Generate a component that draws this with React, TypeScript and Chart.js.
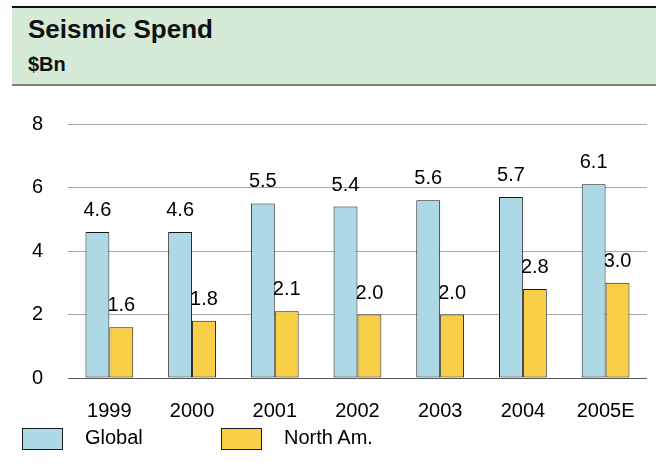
import React, { useEffect, useRef } from "react";
import { Chart, registerables } from "chart.js";

Chart.register(...registerables);

const title = "Seismic Spend";
const subtitle = "$Bn";
const categories = ["1999", "2000", "2001", "2002", "2003", "2004", "2005E"];
const seriesNames = ["Global", "North Am."];
const globalValues = [4.6, 4.6, 5.5, 5.4, 5.6, 5.7, 6.1];
const northAmValues = [1.6, 1.8, 2.1, 2.0, 2.0, 2.8, 3.0];
const yMin = 0;
const yMax = 8;
const yStep = 2;

const FONT = "'Liberation Sans', Arial, Helvetica, sans-serif";
const BLUE = "#add8e6";
const YELLOW = "#f9cf48";
const BORDER = "#1a1a1a";

const valueLabels = {
  id: "valueLabels",
  beforeDatasetsDraw(chart: any) {
    const ctx = chart.ctx;
    ctx.save();
    ctx.font = `20px ${FONT}`;
    ctx.fillStyle = "#000";
    ctx.textAlign = "center";
    ctx.textBaseline = "middle";
    chart.data.datasets.forEach((ds: any, i: number) => {
      const meta = chart.getDatasetMeta(i);
      meta.data.forEach((bar: any, j: number) => {
        const v = ds.data[j];
        ctx.fillText(v.toFixed(1), bar.x, bar.y - 21.5);
      });
    });
    ctx.restore();
  },
};

export default function App() {
  const ref = useRef<HTMLCanvasElement | null>(null);

  useEffect(() => {
    if (!ref.current) return;
    Chart.defaults.font.family = FONT;
    Chart.defaults.font.size = 20;
    Chart.defaults.color = "#000";
    const chart = new Chart(ref.current, {
      type: "bar",
      data: {
        labels: categories,
        datasets: [
          {
            label: seriesNames[0],
            data: globalValues,
            backgroundColor: BLUE,
            borderColor: BORDER,
            borderWidth: 1,
            borderSkipped: false,
            categoryPercentage: 0.578,
            barPercentage: 1,
          },
          {
            label: seriesNames[1],
            data: northAmValues,
            backgroundColor: YELLOW,
            borderColor: BORDER,
            borderWidth: 1,
            borderSkipped: false,
            categoryPercentage: 0.578,
            barPercentage: 1,
          },
        ],
      },
      options: {
        responsive: false,
        animation: false,
        devicePixelRatio: 1,
        layout: { padding: { top: 124, right: 7, bottom: 0, left: 0 } },
        plugins: {
          legend: { display: false },
          tooltip: { enabled: false },
          title: { display: false },
        },
        scales: {
          x: {
            grid: { display: false, drawTicks: false },
            border: { display: false },
            ticks: {
              padding: 21,
              maxRotation: 0,
              autoSkip: false,
              font: { size: 20, family: FONT },
              color: "#000",
            },
            afterFit(scale: any) {
              scale.height = 85;
            },
          },
          y: {
            min: yMin,
            max: yMax,
            grid: {
              drawTicks: false,
              color: (c: any) => (c.tick && c.tick.value === 0 ? "#555555" : "#a6a6a6"),
              lineWidth: 1,
            },
            border: { display: false },
            ticks: {
              stepSize: yStep,
              padding: 25,
              font: { size: 20, family: FONT },
              color: "#000",
            },
            afterFit(scale: any) {
              scale.width = 68;
            },
          },
        },
      },
      plugins: [valueLabels],
    } as any);
    return () => chart.destroy();
  }, []);

  const legendColors = [BLUE, YELLOW];
  const legendLeft = [22, 221];

  return (
    <div
      style={{
        position: "absolute",
        left: 0,
        top: 0,
        width: 656,
        height: 463,
        overflow: "hidden",
        fontFamily: FONT,
        background: "#fff",
      }}
    >
      <canvas
        ref={ref}
        width={656}
        height={463}
        style={{ position: "absolute", left: 0, top: 0, width: 656, height: 463, display: "block" }}
      />
      <div
        style={{
          position: "absolute",
          left: 12,
          top: 6,
          width: 644,
          height: 76,
          background: "#d5ebd7",
          borderTop: "2px solid #111",
          borderBottom: "2px solid #7f7f7f",
        }}
      />
      <div
        style={{
          position: "absolute",
          left: 28,
          top: 15.5,
          fontSize: 26,
          lineHeight: "26px",
          fontWeight: "bold",
          color: "#111",
          whiteSpace: "nowrap",
        }}
      >
        {title}
      </div>
      <div
        style={{
          position: "absolute",
          left: 28,
          top: 53.5,
          fontSize: 20,
          lineHeight: "20px",
          fontWeight: "bold",
          color: "#111",
          whiteSpace: "nowrap",
        }}
      >
        {subtitle}
      </div>
      {seriesNames.map((name, i) => (
        <React.Fragment key={name}>
          <div
            style={{
              position: "absolute",
              left: legendLeft[i],
              top: 428,
              width: 39,
              height: 20,
              background: legendColors[i],
              border: `1px solid ${BORDER}`,
            }}
          />
          <div
            style={{
              position: "absolute",
              left: legendLeft[i] + 63,
              top: 426,
              fontSize: 20,
              lineHeight: "22px",
              color: "#000",
              whiteSpace: "nowrap",
            }}
          >
            {name}
          </div>
        </React.Fragment>
      ))}
    </div>
  );
}
